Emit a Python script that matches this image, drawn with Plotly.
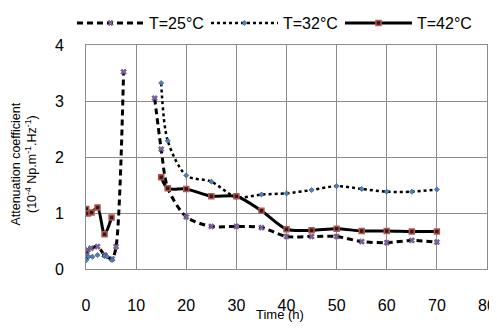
import plotly.graph_objects as go

# Data
t25 = [0.1, 0.3, 1.0, 2.3, 3.7, 5.2, 6.0, 7.5, None, 13.7, 15.0, 16.3, 20, 25, 30, 35, 40, 45, 50, 55, 60, 65, 70]
a25 = [0.25, 0.34, 0.37, 0.40, 0.25, 0.18, 0.40, 3.52, None, 3.05, 2.14, 1.45, 0.93, 0.76, 0.76, 0.74, 0.58, 0.58, 0.58, 0.49, 0.47, 0.51, 0.48]

t32 = [0.06, 0.5, 1.3, 2.3, 3.7, 4.2, 5.2, None, 15.0, 16.3, 20, 25, 30, 35, 40, 45, 50, 55, 60, 65, 70]
a32 = [0.16, 0.22, 0.22, 0.25, 0.23, 0.22, 0.16, None, 3.32, 2.29, 1.67, 1.56, 1.28, 1.33, 1.35, 1.41, 1.48, 1.43, 1.38, 1.38, 1.42]

t42 = [0.06, 0.4, 1.1, 2.3, 3.7, 5.1, None, 15.0, 16.3, 20, 25, 30, 35, 40, 45, 50, 55, 60, 65, 70]
a42 = [1.07, 0.99, 1.01, 1.10, 0.62, 0.92, None, 1.64, 1.44, 1.43, 1.30, 1.30, 1.04, 0.71, 0.69, 0.72, 0.68, 0.68, 0.67, 0.67]

x_ticks = [0, 10, 20, 30, 40, 50, 60, 70, 80]
y_ticks = [0, 1, 2, 3, 4]

FONT = "Liberation Sans, Arial, sans-serif"

fig = go.Figure()
fig.add_trace(go.Scatter(
    x=t25, y=a25, name="T=25°C", mode="lines+markers",
    line=dict(color="black", width=3, dash="6px,4px", shape="spline", smoothing=0.8),
    marker=dict(symbol="x", size=5, color="#8064a2", line=dict(color="#3f3151", width=0.5)),
    connectgaps=False,
))
fig.add_trace(go.Scatter(
    x=t32, y=a32, name="T=32°C", mode="lines+markers",
    line=dict(color="black", width=2.5, dash="dot", shape="spline", smoothing=0.8),
    marker=dict(symbol="diamond", size=4, color="#4f81bd", line=dict(color="#1f3f6f", width=0.5)),
    connectgaps=False,
))
fig.add_trace(go.Scatter(
    x=t42, y=a42, name="T=42°C", mode="lines+markers",
    line=dict(color="black", width=3, shape="spline", smoothing=0.8),
    marker=dict(symbol="square", size=5, color="#222222", line=dict(color="#c0504d", width=1.5)),
    connectgaps=False,
))

# page has an 8px body margin, so the figure is sized to fit the window
fig.update_layout(
    width=489, height=324,
    margin=dict(l=78, r=10, t=37, b=63, autoexpand=False),
    paper_bgcolor="white", plot_bgcolor="white",
    font=dict(family=FONT, size=16, color="black"),
    showlegend=True,
    legend=dict(orientation="h", xref="paper", yref="paper",
                x=-0.035, xanchor="left", y=1.098, yanchor="middle",
                font=dict(size=16), entrywidth=52,
                itemwidth=67, tracegroupgap=0, bgcolor="rgba(0,0,0,0)"),
    xaxis=dict(range=[0, 80], tickvals=x_ticks, ticktext=[str(v) for v in x_ticks],
               showgrid=True, gridcolor="#8c8c8c", gridwidth=1,
               showline=True, linecolor="#8c8c8c", linewidth=1, mirror=True,
               zeroline=False, ticks="", ticklabelstandoff=22, automargin=False,
               tickfont=dict(size=16)),
    yaxis=dict(range=[0, 4], tickvals=y_ticks, ticktext=[str(v) for v in y_ticks],
               showgrid=True, gridcolor="#8c8c8c", gridwidth=1,
               showline=True, linecolor="#8c8c8c", linewidth=1, mirror=True,
               zeroline=False, ticks="", ticklabelstandoff=18, automargin=False,
               tickfont=dict(size=16)),
)

fig.add_annotation(text="Time (h)", x=0.485, y=-0.205, xref="paper", yref="paper",
                   xanchor="center", yanchor="middle", showarrow=False,
                   font=dict(size=13, family=FONT))
fig.add_annotation(text="Attenuation coefficient<br>(10<sup>-4</sup> Np.m<sup>-1</sup>.Hz<sup>-1</sup>)",
                   x=-0.155, y=0.47, xref="paper", yref="paper",
                   xanchor="center", yanchor="middle", textangle=-90, showarrow=False,
                   font=dict(size=12.5, family=FONT))

fig.write_html("out.html")
